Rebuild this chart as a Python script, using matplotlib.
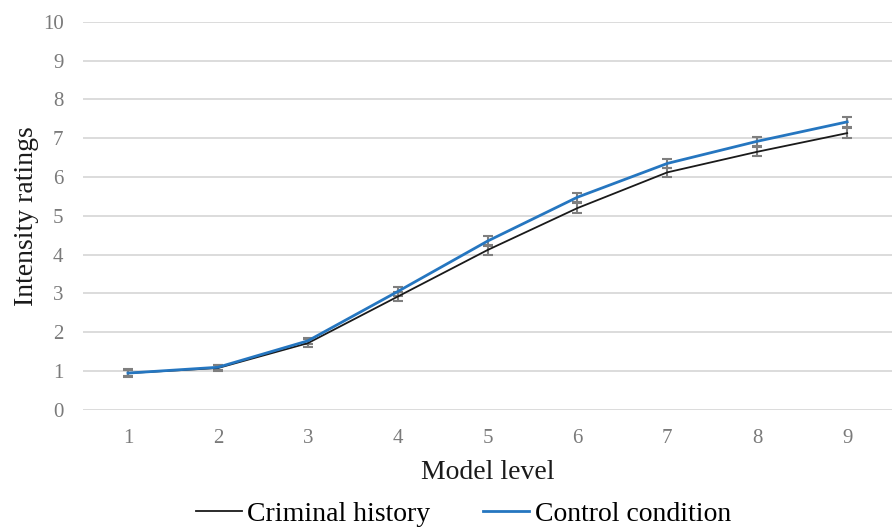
import matplotlib.pyplot as plt
from matplotlib.lines import Line2D

plt.rcParams['font.family'] = ['Liberation Serif', 'DejaVu Serif']

levels = [1, 2, 3, 4, 5, 6, 7, 8, 9]
criminal = [0.95, 1.08, 1.72, 2.92, 4.12, 5.20, 6.12, 6.65, 7.13]
control = [0.95, 1.10, 1.78, 3.05, 4.35, 5.48, 6.35, 6.92, 7.42]
criminal_err = [0.10, 0.08, 0.10, 0.12, 0.12, 0.12, 0.12, 0.12, 0.12]
control_err = [0.08, 0.07, 0.08, 0.12, 0.12, 0.12, 0.12, 0.12, 0.12]

black = '#1a1a1a'
blue = '#2576c0'

fig = plt.figure(figsize=(8.93, 5.29), dpi=100)
ax = fig.add_axes([0.093, 0.225, 0.906, 0.734])

ax.errorbar(levels, criminal, yerr=criminal_err, color=black, lw=1.3,
            ecolor='#7f7f7f', elinewidth=1.5, capsize=3.5, capthick=1.5, zorder=3)
ax.errorbar(levels, control, yerr=control_err, color=blue, lw=2.0,
            ecolor='#7f7f7f', elinewidth=1.5, capsize=3.5, capthick=1.5, zorder=3)

ax.set_xlim(0.5, 9.5)
ax.set_ylim(0, 10)
ax.set_yticks(range(0, 11))
ax.set_xticks(levels)
ax.grid(axis='y', color='#d9d9d9', lw=1.3)
ax.set_axisbelow(True)
for s in ax.spines.values():
    s.set_visible(False)
ax.tick_params(length=0, labelsize=15, labelcolor='#7a7a7a')
ax.tick_params(axis='x', pad=14)
ax.tick_params(axis='y', pad=14)

ax.set_xlabel('Model level', fontsize=20, color=black, labelpad=8)
ax.set_ylabel('Intensity ratings', fontsize=20, color=black, labelpad=3)

handles = [Line2D([], [], color=black, lw=1.3), Line2D([], [], color=blue, lw=2.0)]
fig.legend(handles, ['Criminal history', 'Control condition'], loc='lower center',
           bbox_to_anchor=(0.519, -0.043), ncol=2, frameon=False, fontsize=20,
           handlelength=1.65, handletextpad=0.2, columnspacing=1.9)

fig.savefig('out.png', dpi=100)
